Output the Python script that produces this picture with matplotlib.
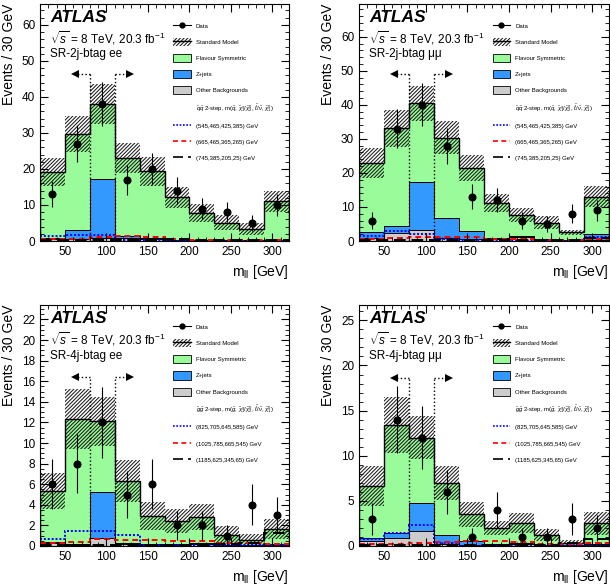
import numpy as np
import matplotlib
matplotlib.use("Agg")
import matplotlib.pyplot as plt
from matplotlib.patches import Patch
from matplotlib.lines import Line2D
from matplotlib.ticker import MultipleLocator, AutoMinorLocator

# m_ll bin edges [GeV]
edges = [20, 50, 80, 110, 140, 170, 200, 230, 260, 290, 320]

# SR-2j-btag ee
ee2j_data = [13, 27, 38, 17, 20, 14, 9, 8, 5, 10]
ee2j_sm = [19.1, 29.7, 38.0, 23.0, 19.3, 12.1, 7.7, 5.1, 3.3, 11.0]
ee2j_err = [3.9, 5.0, 5.6, 4.1, 3.9, 2.8, 2.5, 2.1, 1.7, 2.9]
ee2j_zjets = [0.3, 2.4, 16.4, 0.6, 0.2, 0.1, 0.1, 0.1, 0.1, 0.1]
ee2j_other = [0.5, 0.6, 0.8, 0.7, 0.5, 0.3, 0.3, 0.2, 0.2, 0.3]
ee2j_sig1 = [1.4, 1.8, 1.8, 0.4, 0.2, 0.1, 0.1, 0.1, 0.1, 0.1]
ee2j_sig2 = [0.5, 0.6, 1.0, 1.3, 1.1, 0.6, 0.4, 0.3, 0.3, 0.3]
ee2j_sig3 = [0.4, 0.3, 0.3, 0.3, 0.4, 0.5, 0.3, 0.2, 0.2, 0.2]

# SR-2j-btag mumu
mm2j_data = [6, 33, 40, 28, 13, 12, 6, 5, 8, 9]
mm2j_sm = [22.8, 33.1, 40.4, 30.3, 21.5, 11.1, 7.6, 5.4, 2.5, 13.0]
mm2j_err = [4.4, 5.5, 5.2, 4.8, 3.9, 2.7, 2.0, 1.8, 0.8, 3.1]
mm2j_zjets = [1.7, 2.1, 14.2, 5.9, 2.4, 0.5, 0.2, 0.2, 0.1, 1.8]
mm2j_other = [0.8, 2.3, 3.2, 0.8, 0.6, 0.5, 1.2, 0.3, 0.2, 0.4]
mm2j_sig1 = [1.6, 3.0, 2.0, 0.5, 0.2, 0.1, 0.1, 0.1, 0.1, 1.2]
mm2j_sig2 = [0.7, 0.8, 1.2, 1.3, 1.1, 0.7, 0.5, 0.3, 0.3, 0.6]
mm2j_sig3 = [0.3, 0.3, 0.3, 0.4, 0.4, 0.4, 0.3, 0.2, 0.2, 1.0]

# SR-4j-btag ee
ee4j_data = [6, 8, 12, 5, 6, 2, 2, 1, 4, 3]
ee4j_sm = [5.35, 12.3, 12.1, 6.3, 2.9, 2.4, 2.8, 1.1, 0.6, 1.65]
ee4j_err = [1.75, 2.9, 2.4, 2.05, 1.35, 1.15, 1.25, 0.8, 0.6, 0.95]
ee4j_zjets = [0.1, 0.1, 4.4, 0.1, 0.05, 0.05, 0.05, 0.05, 0.05, 0.05]
ee4j_other = [0.3, 0.1, 0.8, 0.15, 0.1, 0.1, 0.2, 0.05, 0.05, 0.1]
ee4j_sig1 = [0.7, 1.45, 1.45, 1.1, 0.05, 0.05, 0.05, 0.05, 0.05, 0.05]
ee4j_sig2 = [0.3, 0.35, 0.7, 0.55, 0.55, 0.5, 0.45, 0.3, 0.25, 0.2]
ee4j_sig3 = [0.1, 0.1, 0.1, 0.1, 0.1, 0.1, 0.1, 0.15, 0.3, 1.3]

# SR-4j-btag mumu
mm4j_data = [3, 14, 12, 6, 1, 4, 1, 1, 3, 2]
mm4j_sm = [6.65, 13.4, 12.0, 7.0, 3.5, 2.0, 2.55, 1.2, 0.37, 2.5]
mm4j_err = [2.2, 3.1, 2.35, 1.9, 1.4, 0.8, 1.1, 0.65, 0.3, 1.25]
mm4j_zjets = [0.25, 0.5, 3.06, 1.05, 0.4, 0.1, 0.1, 0.05, 0.05, 0.1]
mm4j_other = [0.6, 0.9, 1.7, 0.2, 0.1, 0.1, 0.2, 0.1, 0.05, 0.1]
mm4j_sig1 = [0.8, 1.4, 2.36, 0.3, 0.05, 0.05, 0.05, 0.05, 0.05, 0.05]
mm4j_sig2 = [0.2, 0.2, 0.3, 0.4, 0.5, 0.6, 0.45, 0.2, 0.2, 0.3]
mm4j_sig3 = [0.1, 0.1, 0.1, 0.1, 0.1, 0.1, 0.1, 0.15, 0.3, 0.8]

sq_title = (r"$\tilde{q}\tilde{q}$ 2-step, m($\tilde{q}$, "
            r"$\tilde{\chi}_1^{\pm}/\tilde{\chi}_2^0$, $\tilde{\ell}/\tilde{\nu}$, $\tilde{\chi}_1^0$)")
gl_title = (r"$\tilde{g}\tilde{g}$ 2-step, m($\tilde{g}$, "
            r"$\tilde{\chi}_1^{\pm}/\tilde{\chi}_2^0$, $\tilde{\ell}/\tilde{\nu}$, $\tilde{\chi}_1^0$)")
sq_masses = ["(545,465,425,385) GeV", "(665,465,365,265) GeV", "(745,385,205,25) GeV"]
gl_masses = ["(825,705,645,585) GeV", "(1025,785,665,545) GeV", "(1185,625,345,65) GeV"]

zveto = [80, 110]

c_fs = "#99fb99"
c_z = "#3399ff"
c_other = "#cccccc"
hatch = "/////////"

plt.rcParams["font.family"] = ["Liberation Sans", "DejaVu Sans"]
plt.rcParams["mathtext.fontset"] = "custom"
plt.rcParams["mathtext.rm"] = "Liberation Sans"
plt.rcParams["mathtext.it"] = "Liberation Sans:italic"
plt.rcParams["mathtext.bf"] = "Liberation Sans:bold"
plt.rcParams["hatch.linewidth"] = 0.75


def draw_panel(ax, data, sm, err, zjets, other, sigs, title, masses, region,
               ymax, ymajor, arrow_y):
    data = np.array(data, float)
    sm = np.array(sm)
    err = np.array(err)
    zo = np.array(zjets) + np.array(other)
    centers = (np.array(edges[:-1]) + np.array(edges[1:])) / 2

    ax.stairs(sm, edges, fill=True, color=c_fs, lw=0)
    ax.stairs(zo, edges, fill=True, color=c_z, lw=0)
    ax.stairs(zo, edges, color="k", lw=0.7)
    ax.stairs(other, edges, fill=True, color=c_other, lw=0)
    ax.stairs(other, edges, color="k", lw=0.7)
    ax.stairs(sm + err, edges, baseline=sm - err, fill=True, facecolor="none",
              edgecolor="#1a1a1a", hatch=hatch, lw=0)
    ax.stairs(sm, edges, color="k", lw=1.0)

    ax.stairs(sigs[0], edges, baseline=None, color="blue", lw=1.4, ls=(0, (1, 1)))
    ax.stairs(sigs[1], edges, baseline=None, color="red", lw=1.4, ls=(0, (3, 2)))
    ax.stairs(sigs[2], edges, baseline=None, color="k", lw=1.4, ls=(0, (6, 3)))

    ax.errorbar(centers, data, yerr=np.sqrt(data), fmt="o", color="k", ms=4.8,
                elinewidth=0.8, capsize=0, zorder=5)

    # Z-veto window arrows
    for x0, dx in zip(zveto, [-1, 1]):
        ax.plot([x0, x0], [0, arrow_y], color="k", ls=":", lw=1.0)
        ax.plot([x0, x0 + dx * 16], [arrow_y, arrow_y], color="k", ls=":", lw=1.0)
        ax.plot([x0 + dx * 18], [arrow_y], marker="<" if dx < 0 else ">",
                color="k", ms=6, mew=0)

    ax.set_xlim(edges[0], edges[-1])
    ax.set_ylim(0, ymax)
    ax.xaxis.set_major_locator(MultipleLocator(50))
    ax.xaxis.set_minor_locator(MultipleLocator(10))
    ax.yaxis.set_major_locator(MultipleLocator(ymajor))
    ax.yaxis.set_minor_locator(AutoMinorLocator())
    ax.tick_params(which="both", direction="in", top=True, right=True, labelsize=8.5)
    ax.tick_params(which="major", length=6)
    ax.tick_params(which="minor", length=3)
    ax.set_ylabel("Events / 30 GeV", loc="top", fontsize=10, labelpad=4)
    ax.set_xlabel(r"m$_{\rm ll}$ [GeV]", loc="right", fontsize=10, labelpad=4)

    ax.text(0.04, 0.975, "ATLAS", transform=ax.transAxes, fontsize=12.5,
            fontweight="bold", fontstyle="italic", va="top")
    ax.text(0.04, 0.895, r"$\sqrt{s}$ = 8 TeV, 20.3 fb$^{-1}$", transform=ax.transAxes,
            fontsize=8.5, va="top")
    ax.text(0.04, 0.815, region, transform=ax.transAxes, fontsize=8.5, va="top")

    handles = [
        Line2D([], [], color="k", marker="o", ms=3.5, lw=0.8),
        (Patch(facecolor="white", edgecolor="#1a1a1a", hatch=hatch, lw=0),
         Line2D([], [], color="k", lw=1.0)),
        Patch(facecolor=c_fs, edgecolor="k", lw=0.6),
        Patch(facecolor=c_z, edgecolor="k", lw=0.6),
        Patch(facecolor=c_other, edgecolor="k", lw=0.6),
        Patch(facecolor="none", edgecolor="none"),
        Line2D([], [], color="blue", lw=1.2, ls=(0, (1, 1))),
        Line2D([], [], color="red", lw=1.2, ls=(0, (3, 2))),
        Line2D([], [], color="k", lw=1.2, ls=(0, (6, 3))),
    ]
    labels = ["Data", "Standard Model", "Flavour Symmetric", "Z+jets",
              "Other Backgrounds", title] + masses
    ax.legend(handles, labels, loc="upper left", bbox_to_anchor=(0.534, 0.925),
              frameon=False, fontsize=4.3, borderpad=0, borderaxespad=0,
              handlelength=3.0, handleheight=1.7, labelspacing=1.35,
              handletextpad=0.8)


fig = plt.figure(figsize=(6.1, 5.85), dpi=100)
ax1 = fig.add_axes([40 / 610, 1 - 241 / 585, 249 / 610, 237 / 585])
ax2 = fig.add_axes([359 / 610, 1 - 241 / 585, 250 / 610, 237 / 585])
ax3 = fig.add_axes([40 / 610, 1 - 546 / 585, 249 / 610, 241 / 585])
ax4 = fig.add_axes([359 / 610, 1 - 546 / 585, 250 / 610, 241 / 585])

draw_panel(ax1, ee2j_data, ee2j_sm, ee2j_err, ee2j_zjets, ee2j_other,
           [ee2j_sig1, ee2j_sig2, ee2j_sig3], sq_title, sq_masses,
           "SR-2j-btag ee", 65.8, 10, 46.4)
draw_panel(ax2, mm2j_data, mm2j_sm, mm2j_err, mm2j_zjets, mm2j_other,
           [mm2j_sig1, mm2j_sig2, mm2j_sig3], sq_title, sq_masses,
           "SR-2j-btag μμ", 69.6, 10, 49.0)
draw_panel(ax3, ee4j_data, ee4j_sm, ee4j_err, ee4j_zjets, ee4j_other,
           [ee4j_sig1, ee4j_sig2, ee4j_sig3], gl_title, gl_masses,
           "SR-4j-btag ee", 23.4, 2, 16.4)
draw_panel(ax4, mm4j_data, mm4j_sm, mm4j_err, mm4j_zjets, mm4j_other,
           [mm4j_sig1, mm4j_sig2, mm4j_sig3], gl_title, gl_masses,
           "SR-4j-btag μμ", 26.7, 5, 18.6)

fig.savefig("out.png", dpi=100)
